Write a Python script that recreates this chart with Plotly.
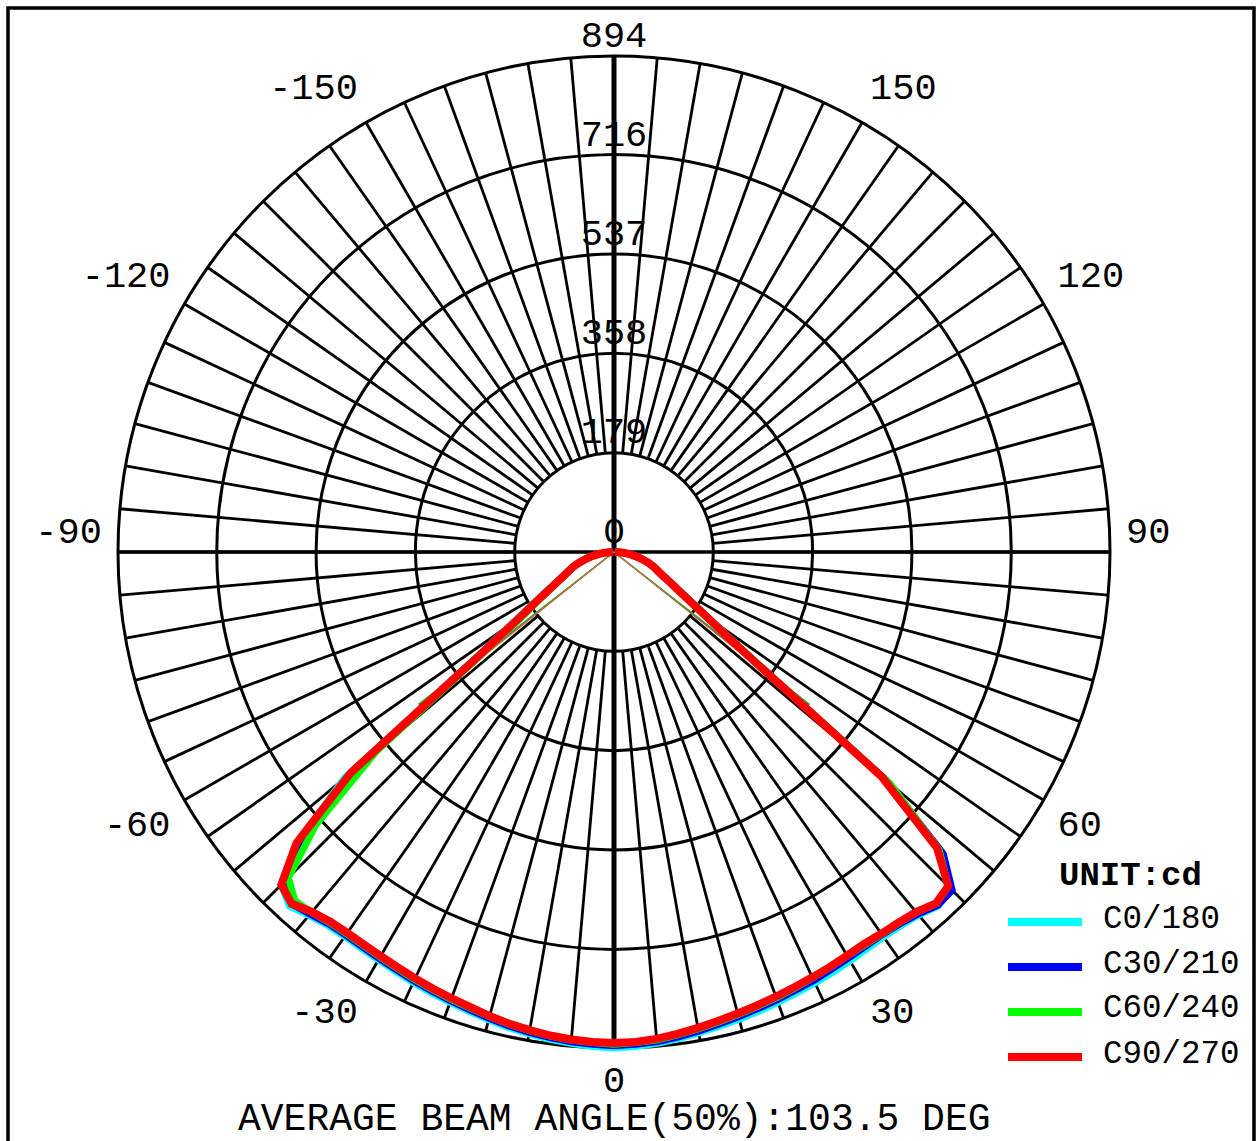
import plotly.graph_objects as go

# Gamma angles (deg): 0 = nadir, negative to the left, positive to the right
GAMMA = [g / 2 for g in range(-180, 181, 5)]

# Luminous intensity (cd) for each C-plane pair, gamma -90 .. 90 in 2.5 deg steps
C0_180 = [2, 9, 18, 27, 37, 47, 57, 68, 80, 90, 101, 117, 140, 172, 222, 314, 635, 768,
          848, 866, 855, 848, 846, 847, 849, 852, 856, 860, 864, 868, 873, 878, 882, 886,
          889, 892, 894, 892, 889, 885, 880, 876, 872, 868, 864, 860, 857, 854, 851, 848,
          847, 849, 854, 865, 850, 795, 645, 300, 210, 162, 131, 111, 95, 84, 76, 65, 55,
          45, 36, 27, 18, 9, 2]
C30_210 = [2, 9, 18, 27, 37, 47, 57, 68, 79, 87, 98, 113, 134, 165, 213, 300, 600, 755,
           840, 860, 852, 845, 843, 844, 846, 849, 853, 857, 861, 865, 870, 875, 879, 883,
           886, 888, 890, 888, 886, 882, 877, 872, 867, 863, 859, 855, 852, 848, 845, 843,
           842, 845, 852, 864, 862, 805, 640, 295, 206, 158, 129, 109, 94, 83, 75, 65, 55,
           45, 36, 27, 18, 9, 2]
C60_240 = [2, 9, 18, 27, 37, 47, 57, 68, 78, 86, 96, 110, 130, 158, 200, 290, 560, 730,
           830, 852, 848, 842, 840, 841, 843, 846, 850, 854, 858, 862, 867, 872, 876, 880,
           883, 885, 887, 885, 883, 878, 873, 868, 863, 859, 855, 851, 847, 844, 841, 840,
           841, 843, 848, 860, 852, 795, 650, 300, 208, 160, 130, 110, 95, 84, 76, 65, 55,
           45, 36, 27, 18, 9, 2]
C90_270 = [2, 9, 18, 27, 37, 47, 57, 68, 79, 87, 98, 113, 134, 165, 213, 304, 620, 776,
           848, 860, 847, 840, 838, 839, 841, 844, 848, 852, 856, 860, 866, 871, 875, 879,
           882, 884, 885, 884, 881, 876, 871, 866, 861, 857, 853, 849, 846, 843, 840, 838,
           840, 842, 847, 859, 852, 790, 630, 292, 204, 157, 128, 108, 93, 83, 75, 65, 55,
           45, 36, 27, 18, 9, 2]

PLANES = ["C0/180", "C30/210", "C60/240", "C90/270"]
SERIES = [C0_180, C30_210, C60_240, C90_270]
COLORS = ["#00FFFF", "#0000FF", "#00FF00", "#FF0000"]

# Half beam angle (deg) of each plane at 50 % of peak intensity
HALF_BEAM = [51.6, 51.9, 52.1, 51.4]
AVG_BEAM = 103.5

# Radial scale rings (cd) and angular tick labels
MAX_CD = 894
RING_VALUES = [0, 179, 358, 537, 716, 894]
ANG_TICKS = [0, 30, 60, 90, 120, 150, 210, 240, 270, 300, 330]
ANG_TEXT = ["0", "30", "60", "90", "120", "150", "-150", "-120", "-90", "-60", "-30"]
SPOKE_STEP = 5

FONT = "Liberation Mono"
W, H = 1258, 1141
CX, CY, R = 614, 552, 496          # centre and rim radius in pixels
RANGE_MAX = 990                     # axis range leaves room for angle labels
LABEL_R = 923                       # radius of the angle labels
R_AX = R * RANGE_MAX / MAX_CD


def label_anchor(a):
    """Text anchor for an angle label so it sits outside the rim."""
    if a == 0:
        return "bottom center"
    vert = "bottom" if (a < 90 or a > 270) else "top"
    side = "right" if a < 180 else "left"
    return f"{vert} {side}"


fig = go.Figure()

# spokes every 5 degrees, from the first ring out to the rim
spoke_r, spoke_t = [], []
for a in range(0, 360, SPOKE_STEP):
    spoke_r += [RING_VALUES[1], MAX_CD, None]
    spoke_t += [a, a, None]
fig.add_trace(go.Scatterpolar(r=spoke_r, theta=spoke_t, mode="lines",
                              line=dict(color="black", width=2.8),
                              hoverinfo="skip", showlegend=False))

# radial scale labels along the 180 deg direction
fig.add_trace(go.Scatterpolar(
    r=RING_VALUES, theta=[180] * len(RING_VALUES), mode="text",
    text=[str(v) for v in RING_VALUES], textposition="top center",
    textfont=dict(family=FONT, size=37, color="black"),
    cliponaxis=False, hoverinfo="skip", showlegend=False))

# angle labels just outside the rim
fig.add_trace(go.Scatterpolar(
    r=[LABEL_R] * len(ANG_TICKS), theta=ANG_TICKS, mode="text",
    text=ANG_TEXT, textposition=[label_anchor(a) for a in ANG_TICKS],
    textfont=dict(family=FONT, size=37, color="black"),
    cliponaxis=False, hoverinfo="skip", showlegend=False))

# main cross axes
fig.add_trace(go.Scatterpolar(r=[MAX_CD, MAX_CD], theta=[0, 180], mode="lines",
                              line=dict(color="black", width=5),
                              hoverinfo="skip", showlegend=False))
fig.add_trace(go.Scatterpolar(r=[MAX_CD, MAX_CD], theta=[90, 270], mode="lines",
                              line=dict(color="black", width=3.5),
                              hoverinfo="skip", showlegend=False))

# thin beam-angle lines to the 50 % intensity level
for h, col in zip(HALF_BEAM, ["#00C8C8", "#3030E0", "#20C020", "#E06030"]):
    fig.add_trace(go.Scatterpolar(
        r=[MAX_CD * 0.5, 0, MAX_CD * 0.5], theta=[-h, 0, h], mode="lines",
        line=dict(color=col, width=1.2), hoverinfo="skip", showlegend=False))

# intensity curves
for name, vals, col in zip(PLANES, SERIES, COLORS):
    fig.add_trace(go.Scatterpolar(
        r=vals, theta=GAMMA, mode="lines", name=name,
        line=dict(color=col, width=8 if col == "#FF0000" else 7),
        showlegend=False))

fig.update_layout(
    width=W, height=H,
    margin=dict(l=0, r=0, t=0, b=0),
    paper_bgcolor="white",
    showlegend=False,
    polar=dict(
        domain=dict(x=[(CX - R_AX) / W, (CX + R_AX) / W],
                    y=[(H - CY - R_AX) / H, (H - CY + R_AX) / H]),
        bgcolor="rgba(0,0,0,0)",
        radialaxis=dict(range=[0, RANGE_MAX], tickvals=RING_VALUES[1:],
                        showticklabels=False, ticks="", showline=False,
                        gridcolor="black", gridwidth=2.8, layer="below traces"),
        angularaxis=dict(rotation=270, direction="counterclockwise",
                         tickvals=ANG_TICKS, showticklabels=False,
                         ticks="", showline=False, showgrid=False,
                         layer="below traces"),
    ),
)


def px(x):
    return x / W


def py(y):
    return (H - y) / H


# legend drawn by hand
fig.add_annotation(x=px(1130), y=py(876), xref="paper", yref="paper",
                   xanchor="center", yanchor="middle",
                   text="<b>UNIT:cd</b>", showarrow=False,
                   font=dict(family=FONT, size=34, color="black"))
leg_y = [922, 967, 1012, 1057]
for name, col, yy in zip(PLANES, COLORS, leg_y):
    fig.add_shape(type="line", xref="paper", yref="paper",
                  x0=px(1008), x1=px(1082), y0=py(yy), y1=py(yy),
                  line=dict(color=col, width=8))
    fig.add_annotation(x=px(1101), y=py(yy - 3), xref="paper", yref="paper",
                       xanchor="left", yanchor="middle",
                       text=name, showarrow=False,
                       font=dict(family=FONT, size=32.5, color="black"))

fig.add_annotation(x=px(614), y=py(1119), xref="paper", yref="paper",
                   xanchor="center", yanchor="middle",
                   text=f"AVERAGE BEAM ANGLE(50%):{AVG_BEAM} DEG", showarrow=False,
                   font=dict(family=FONT, size=38, color="black"))

# outer frame
fig.add_shape(type="rect", xref="paper", yref="paper",
              x0=px(8), x1=px(1254), y0=-0.02, y1=py(8),
              line=dict(color="black", width=3.5))

fig.write_html("out.html")
